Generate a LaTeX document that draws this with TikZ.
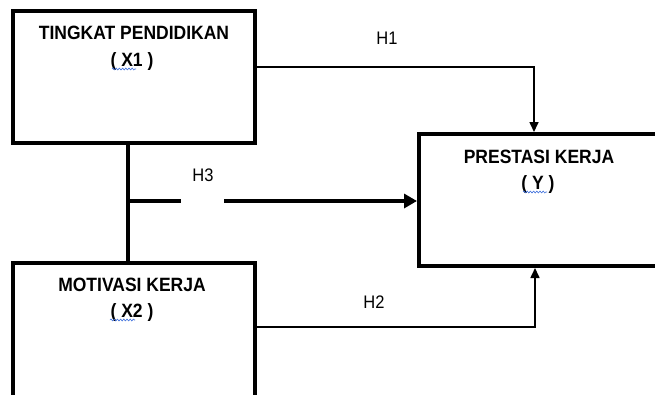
\documentclass[tikz,border=0pt]{standalone}
\usepackage{fontspec}
\usepackage{graphicx}
\setmainfont{Liberation Sans}
\usetikzlibrary{arrows.meta,decorations.pathmorphing}
\definecolor{squig}{RGB}{60,110,220}
\newcommand{\vstretch}[1]{\scalebox{1}[1.1]{#1}}
\tikzset{
  box/.style={draw=black, line width=4pt, fill=white, inner sep=0pt, rectangle},
  title/.style={font=\fontsize{17.5}{20}\selectfont\bfseries, inner sep=0pt, anchor=center},
  hlabel/.style={font=\fontsize{16.5}{19}\selectfont, inner sep=0pt},
  thinarrow/.style={line width=1.6pt, -{Triangle[length=10pt,width=9pt]}},
  thickline/.style={line width=4pt},
  thickarrow/.style={line width=4pt, -{Triangle[length=13pt,width=14pt]}},
  squiggle/.style={draw=squig, line width=0.6pt, decorate, decoration={snake, amplitude=0.9pt, segment length=3.2pt}}
}
\begin{document}
\begin{tikzpicture}[x=1pt,y=-1pt]
\useasboundingbox (0,0) rectangle (655,394);
\fill[white] (0,0) rectangle (655,394);
\clip (0,0) rectangle (655,394);
% boxes
\node[box, minimum width=242pt, minimum height=132.5pt] (x1) at (133.5,76.75) {};
\node[box, minimum width=242pt, minimum height=157pt] (x2) at (133.5,341.5) {};
\node[box, minimum width=281pt, minimum height=132pt] (yb) at (559.5,200) {};
% titles
\node[title] (t1) at (134,33) {\vstretch{TINGKAT PENDIDIKAN}};
\node[title] (t1b) at (132,62) {\vstretch{( X1 )}};
\node[title] (t2) at (132,285) {\vstretch{MOTIVASI KERJA}};
\node[title] (t2b) at (132,313) {\vstretch{( X2 )}};
\node[title] (t3) at (539,157) {\vstretch{PRESTASI KERJA}};
\node[title] (t3b) at (538,185) {\vstretch{( Y )}};
% spell-check squiggles
\coordinate (s1a) at (112,69); \coordinate (s1b) at (136,69);
\coordinate (s2a) at (110,320); \coordinate (s2b) at (135,320);
\coordinate (s3a) at (523,192); \coordinate (s3b) at (547,192);
\draw[squiggle] (s1a) -- (s1b);
\draw[squiggle] (s2a) -- (s2b);
\draw[squiggle] (s3a) -- (s3b);
% H1
\coordinate (h1c) at (534,66.7);
\draw[thinarrow] (x1.east |- h1c) -| (h1c |- yb.north);
\node[hlabel] (h1) at (387,38) {\vstretch{H1}};
% H2
\coordinate (h2c) at (535,327);
\draw[thinarrow] (x2.east |- h2c) -| (h2c |- yb.south);
\node[hlabel] (h2) at (374,302) {\vstretch{H2}};
% H3
\coordinate (j) at (128,201);
\coordinate (g1) at (181,201);
\coordinate (g2) at (224,201);
\draw[thickline] (x1.south -| j) -- (x2.north -| j);
\draw[thickline] (j) -- (g1);
\draw[thickarrow] (g2) -- (g2 -| yb.west);
\node[hlabel] (h3) at (203,175.5) {\vstretch{H3}};
\end{tikzpicture}
\end{document}
